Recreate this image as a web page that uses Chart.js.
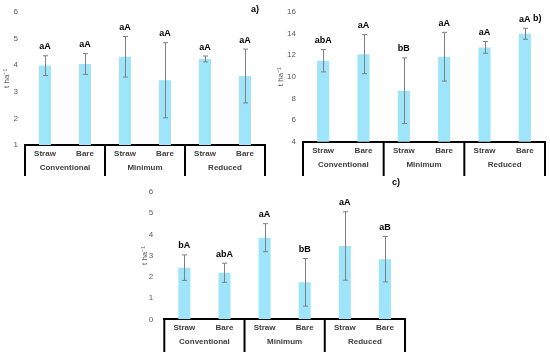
<!DOCTYPE html>
<html>
<head>
<meta charset="utf-8">
<script src="https://cdn.jsdelivr.net/npm/chart.js@4"></script>
<style>
  body { margin: 0; background: #fff; width: 550px; height: 352px; position: relative; overflow: hidden; }
  canvas { position: absolute; }
  .tag { position: absolute; font: bold 9px "Liberation Sans", Arial, sans-serif; color: #000; }
</style>
</head>
<body>
<canvas id="chartA" width="275" height="176" style="left:0;top:0"></canvas>
<canvas id="chartB" width="275" height="176" style="left:275px;top:0"></canvas>
<canvas id="chartC" width="300" height="176" style="left:120px;top:176px"></canvas>
<div class="tag" style="left:251px;top:4px">a)</div>
<div class="tag" style="left:533px;top:13px">b)</div>
<div class="tag" style="left:392px;top:177px">c)</div>
<script>
// residue treatment under each tillage system
const treatments = ['Straw', 'Bare', 'Straw', 'Bare', 'Straw', 'Bare'];
const tillage = ['Conventional', 'Minimum', 'Reduced'];
const yLabel = 't ha\u207B\u00B9';

// panel a
const valuesA = [3.98, 4.04, 4.31, 3.43, 4.23, 3.59];
const errorsA = [0.37, 0.39, 0.76, 1.41, 0.11, 1.01];
const lettersA = ['aA', 'aA', 'aA', 'aA', 'aA', 'aA'];
const ticksA = [1, 6, 1];

// panel b
const valuesB = [11.48, 12.09, 8.71, 11.85, 12.71, 13.97];
const errorsB = [1.03, 1.8, 3.03, 2.25, 0.54, 0.51];
const lettersB = ['abA', 'aA', 'bB', 'aA', 'aA', 'aA'];
const ticksB = [4, 16, 2];

// panel c
const valuesC = [2.43, 2.19, 3.84, 1.74, 3.45, 2.83];
const errorsC = [0.6, 0.45, 0.66, 1.12, 1.61, 1.07];
const lettersC = ['bA', 'abA', 'aA', 'bB', 'aA', 'aB'];
const ticksC = [0, 6, 1];

Chart.defaults.font.family = '"Liberation Sans", Arial, sans-serif';

// error bars, letters and the boxed category axis
const panelExtras = {
  id: 'panelExtras',
  afterDatasetsDraw(chart, args, opts) {
    const ctx = chart.ctx;
    const y = chart.scales.y;
    const vals = chart.data.datasets[0].data;
    ctx.save();
    chart.getDatasetMeta(0).data.forEach((bar, i) => {
      const x = Math.round(bar.x) + 0.5;
      const top = y.getPixelForValue(vals[i] + opts.errors[i]);
      const bot = y.getPixelForValue(vals[i] - opts.errors[i]);
      ctx.strokeStyle = '#7f7f7f';
      ctx.lineWidth = 1;
      ctx.beginPath();
      ctx.moveTo(x, top); ctx.lineTo(x, bot);
      ctx.moveTo(x - 2.5, top); ctx.lineTo(x + 2.5, top);
      ctx.moveTo(x - 2.5, bot); ctx.lineTo(x + 2.5, bot);
      ctx.stroke();
      ctx.fillStyle = '#000';
      ctx.font = 'bold 9px "Liberation Sans", Arial, sans-serif';
      ctx.textAlign = 'center';
      ctx.textBaseline = 'middle';
      ctx.fillText(opts.letters[i], bar.x, top - 9);
    });
    const area = chart.chartArea;
    const x2 = chart.scales.x2;
    const edges = [area.left];
    for (let i = 1; i < x2.ticks.length; i++) {
      edges.push((x2.getPixelForValue(i - 1) + x2.getPixelForValue(i)) / 2);
    }
    edges.push(area.right);
    ctx.strokeStyle = '#000';
    ctx.lineWidth = 2;
    edges.forEach(ex => {
      ctx.beginPath();
      ctx.moveTo(ex, area.bottom);
      ctx.lineTo(ex, chart.height);
      ctx.stroke();
    });
    ctx.restore();
  }
};

function buildPanel(id, values, errors, letters, range, d) {
  return new Chart(document.getElementById(id), {
    type: 'bar',
    data: {
      labels: treatments,
      datasets: [{
        data: values,
        xAxisID: 'x',
        backgroundColor: '#9ee5fb',
        categoryPercentage: 1,
        barPercentage: 0.3
      }]
    },
    options: {
      responsive: false,
      animation: false,
      devicePixelRatio: 1,
      layout: { padding: { left: 0, right: d.padRight, top: d.padTop, bottom: 0 } },
      plugins: {
        legend: { display: false },
        tooltip: { enabled: false },
        panelExtras: { errors: errors, letters: letters }
      },
      scales: {
        y: {
          min: range[0], max: range[1],
          grid: { display: false, drawTicks: false },
          border: { display: false },
          ticks: { stepSize: range[2], color: '#595959', font: { size: 8 }, padding: d.tickPad },
          title: { display: true, text: yLabel, color: '#595959', font: { size: 8 }, padding: { top: d.titlePad, bottom: 0 } },
          afterFit: s => { s.width = d.yWidth; }
        },
        x: {
          type: 'category',
          position: 'bottom',
          grid: { display: false, drawTicks: false },
          border: { display: true, color: '#000', width: 2 },
          ticks: { color: '#404040', font: { size: 8, weight: 'bold' }, padding: 4, maxRotation: 0, autoSkip: false },
          afterFit: s => { s.height = d.xH; }
        },
        x2: {
          type: 'category',
          labels: tillage,
          position: 'bottom',
          offset: true,
          grid: { display: false, drawTicks: false },
          border: { display: false },
          ticks: { color: '#404040', font: { size: 8, weight: 'bold' }, padding: 2, maxRotation: 0, autoSkip: false },
          afterFit: s => { s.height = d.x2H; }
        }
      }
    },
    plugins: [panelExtras]
  });
}

buildPanel('chartA', valuesA, errorsA, lettersA, ticksA,
  { padRight: 10, padTop: 11.7, yWidth: 25, tickPad: 7, titlePad: 2.2, xH: 16, x2H: 15 });
buildPanel('chartB', valuesB, errorsB, lettersB, ticksB,
  { padRight: 5, padTop: 11.7, yWidth: 28, tickPad: 7, titlePad: 1.2, xH: 16, x2H: 18.3 });
buildPanel('chartC', valuesC, errorsC, lettersC, ticksC,
  { padRight: 15, padTop: 9, yWidth: 44.3, tickPad: 11, titlePad: 20, xH: 16, x2H: 16.7 });
</script>
</body>
</html>
